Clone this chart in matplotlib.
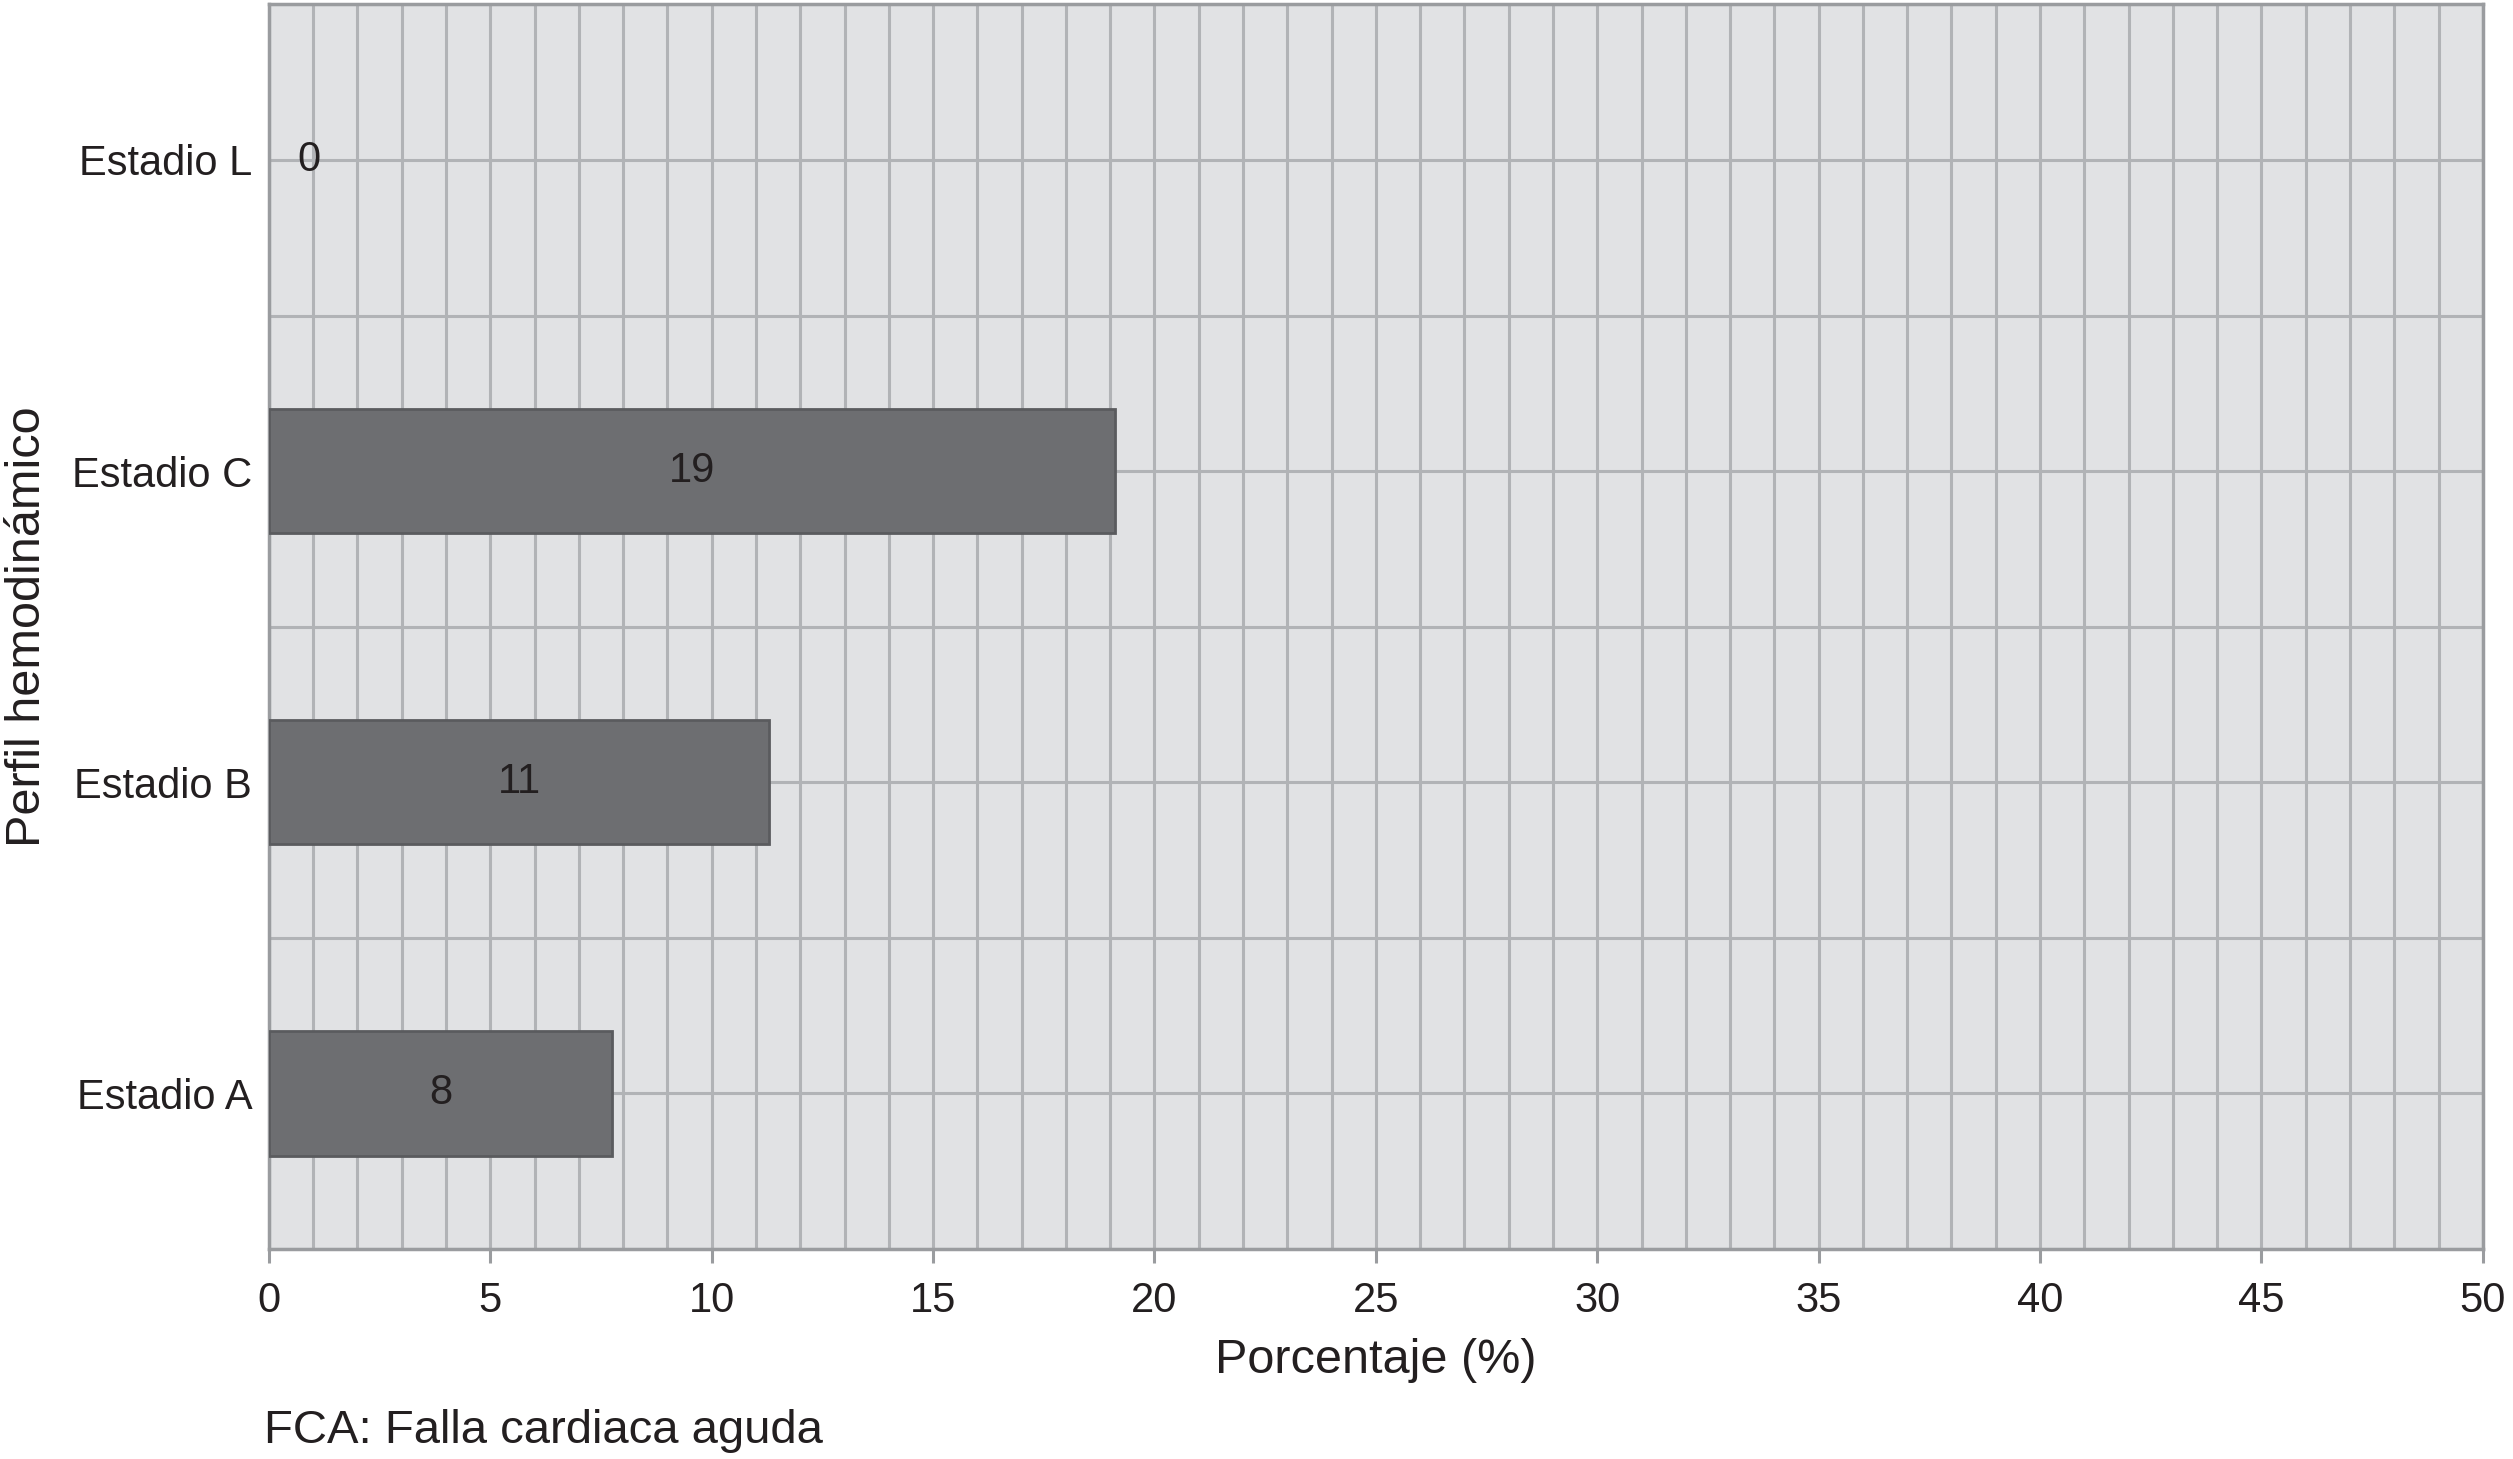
import numpy as np
import matplotlib
matplotlib.use("Agg")
import matplotlib.pyplot as plt
from matplotlib.ticker import MultipleLocator

plt.rcParams['font.family'] = ['Liberation Sans', 'DejaVu Sans']

# data
categories = ['Estadio A', 'Estadio B', 'Estadio C', 'Estadio L']
values = [7.75, 11.3, 19.1, 0]
labels = ['8', '11', '19', '0']
xticks = [0, 5, 10, 15, 20, 25, 30, 35, 40, 45, 50]

text_col = '#231f20'
grid_col = '#b1b3b6'
spine_col = '#9a9c9f'

fig = plt.figure(figsize=(25.13, 14.59), dpi=100)
ax = fig.add_axes([0.107, 0.144, 0.881, 0.853])
ax.set_facecolor('#e1e2e4')

y = np.arange(len(categories))
bars = ax.barh(y, values, height=0.4, color='#6d6e71', edgecolor='#5a5b5e',
               linewidth=2, zorder=3)
for b, v in zip(bars, values):
    if v == 0:
        b.set_linewidth(0)

for yi, v, lab in zip(y, values, labels):
    ax.text(max(v / 2, 0.9), yi, lab, ha='center', va='center',
            fontsize=30, color=text_col, zorder=4)

ax.set_xlim(0, 50)
ax.set_ylim(-0.5, len(categories) - 0.5)
ax.set_xticks(xticks)
ax.xaxis.set_minor_locator(MultipleLocator(1))
ax.set_yticks(y)
ax.set_yticklabels(categories)
ax.yaxis.set_minor_locator(MultipleLocator(0.5))

ax.grid(which='both', axis='both', color=grid_col, linewidth=2.2, zorder=1)
ax.set_axisbelow(True)

ax.tick_params(axis='x', which='major', length=10, width=2.2, color=spine_col,
               labelsize=30, labelcolor=text_col, pad=13)
ax.tick_params(axis='x', which='minor', length=0)
ax.tick_params(axis='y', which='both', length=0, labelsize=30,
               labelcolor=text_col, pad=12)

for s in ax.spines.values():
    s.set_color(spine_col)
    s.set_linewidth(2.5)

ax.set_xlabel('Porcentaje (%)', fontsize=35, color=text_col, labelpad=12)
ax.set_ylabel('Perfil hemodinámico', fontsize=35, color=text_col, labelpad=16)

fig.text(0.105, 0.019, 'FCA: Falla cardiaca aguda', fontsize=34,
         color=text_col, ha='left', va='center')

fig.savefig('out.png', dpi=100, facecolor='white')
